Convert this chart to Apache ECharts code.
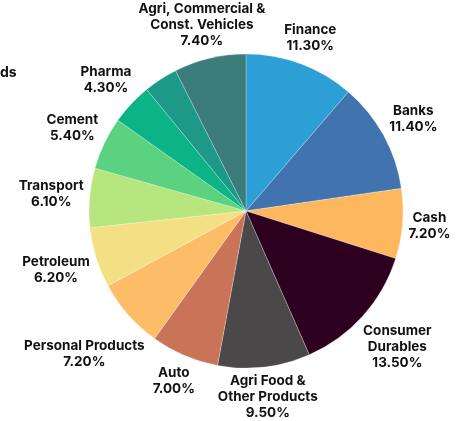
<!DOCTYPE html>
<html>
<head>
<meta charset="utf-8">
<script src="https://cdn.jsdelivr.net/npm/echarts@6/dist/echarts.min.js"></script>
<style>
  html, body { margin: 0; padding: 0; background: #fff; }
  #chart { width: 462px; height: 421px; }
</style>
</head>
<body>
<div id="chart"></div>
<script>
// sector allocation (%), clockwise from 12 o'clock
var categories = ['Finance', 'Banks', 'Cash', 'Consumer\nDurables', 'Agri Food &\nOther Products',
    'Auto', 'Personal Products', 'Petroleum', 'Transport', 'Cement', 'Pharma', 'Others',
    'Agri, Commercial &\nConst. Vehicles'];
var values = [11.3, 11.4, 7.2, 13.5, 9.5, 7.0, 7.2, 6.2, 6.1, 5.4, 4.3, 3.5, 7.4];
var colors = ['#2b9fd6', '#4173ae', '#fdb85f', '#2d0020', '#4a4848', '#c97458', '#fdbc68',
    '#f4e084', '#b7e67e', '#5bd27f', '#0bb386', '#1c9a87', '#3b7d7b'];
var hiddenLabels = ['Others'];

var CX = 246, CY = 211, R = 157, GAP = 5;

// mid angle of every slice, to push the labels out along it
var total = values.reduce(function (a, b) { return a + b; }, 0);
var mids = [];
var acc = 0;
values.forEach(function (v) {
    mids.push((acc + v / 2) / total * 2 * Math.PI);
    acc += v;
});

var myChart = echarts.init(document.getElementById('chart'));
var option = {
    animation: false,
    graphic: [{
        type: 'text',
        left: 0,
        top: 66,
        style: {
            text: 'ds',
            fontFamily: 'Inter',
            fontWeight: 'bold',
            fontSize: 14,
            fill: '#111'
        }
    }],
    series: [{
        type: 'pie',
        center: [CX, CY],
        radius: R,
        startAngle: 90,
        clockwise: true,
        avoidLabelOverlap: false,
        silent: true,
        itemStyle: {
            borderColor: 'rgba(255,255,255,0.5)',
            borderWidth: 0.5
        },
        label: {
            show: true,
            position: 'outside',
            fontFamily: 'Inter',
            fontWeight: 'bold',
            fontSize: 13.5,
            lineHeight: 16,
            color: '#111',
            formatter: function (p) {
                return p.name + '\n' + p.value.toFixed(2) + '%';
            }
        },
        labelLine: { show: false },
        labelLayout: function (p) {
            var a = mids[p.dataIndex];
            var ux = Math.sin(a), uy = -Math.cos(a);
            var w = p.labelRect.width, h = p.labelRect.height;
            var d = R;
            for (; d < R + 200; d += 0.5) {
                var cx = CX + d * ux, cy = CY + d * uy;
                var nx = Math.max(cx - w / 2, Math.min(CX, cx + w / 2));
                var ny = Math.max(cy - h / 2, Math.min(CY, cy + h / 2));
                if (Math.hypot(nx - CX, ny - CY) >= R + GAP) break;
            }
            return {
                x: CX + d * ux,
                y: CY + d * uy,
                align: 'center',
                verticalAlign: 'middle'
            };
        },
        data: categories.map(function (name, i) {
            var item = { name: name, value: values[i], itemStyle: { color: colors[i] } };
            if (hiddenLabels.indexOf(name) >= 0) {
                item.label = { show: false };
            }
            return item;
        })
    }]
};
myChart.setOption(option);

window.onresize = function () {
    myChart.resize();
};
</script>
</body>
</html>
